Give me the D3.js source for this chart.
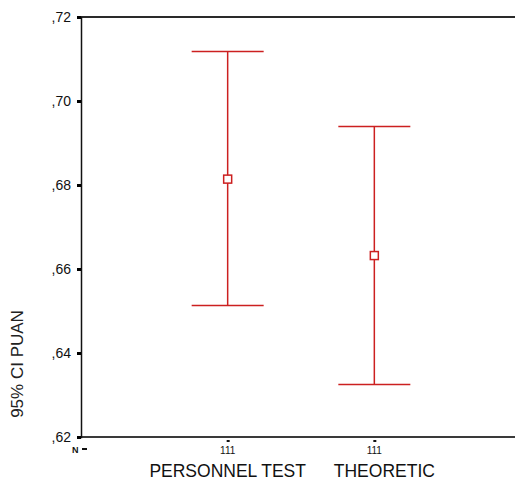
<!DOCTYPE html>
<html>
<head>
<meta charset="utf-8">
<script src="https://cdn.jsdelivr.net/npm/d3@7"></script>
<style>
  body { margin: 0; background: #fff; }
  svg { display: block; font-family: "Liberation Sans", Arial, sans-serif; }
</style>
</head>
<body>
<div id="chart"></div>
<script>
// data
var groups = ["PERSONNEL TEST", "THEORETIC"];
var nValues = ["111", "111"];
var means = [0.6814, 0.6632];
var lower = [0.6513, 0.6325];
var upper = [0.7118, 0.6939];
var yTicks = [0.62, 0.64, 0.66, 0.68, 0.70, 0.72];

var width = 515, height = 483;
var margin = {top: 17, bottom: 46, left: 81, right: 0};

var svg = d3.select("#chart")
  .append("svg")
    .attr("width", width)
    .attr("height", height);

var y = d3.scaleLinear()
  .domain([0.62, 0.72])
  .range([height - margin.bottom, margin.top]);

// categories sit at 1 and 2 on a 0..3 axis that runs a bit past the window
var x = d3.scaleLinear()
  .domain([0, 3])
  .range([margin.left, 521]);

var red = "#cc2020";

// frame (top + bottom lines, left axis)
svg.append("line")
  .attr("x1", margin.left).attr("x2", width)
  .attr("y1", y(0.72)).attr("y2", y(0.72))
  .attr("stroke", "#2a2a2a").attr("stroke-width", 2);
svg.append("line")
  .attr("x1", margin.left).attr("x2", width)
  .attr("y1", y(0.62)).attr("y2", y(0.62))
  .attr("stroke", "#3a3a3a").attr("stroke-width", 2);

// Y axis
var yAxis = svg.append("g")
  .attr("transform", "translate(" + margin.left + ",0)")
  .call(d3.axisLeft(y).tickValues(yTicks).tickSize(4).tickPadding(6)
    .tickFormat(function(d) { return "," + d3.format(".2f")(d).slice(2); }));
yAxis.select(".domain").attr("stroke", "#111").attr("stroke-width", 1.5);
yAxis.selectAll(".tick line").attr("stroke", "#000").attr("stroke-width", 3);
yAxis.selectAll(".tick text")
  .style("font-size", "14px")
  .style("font-family", "\"Liberation Sans\", Arial, sans-serif")
  .attr("fill", "#111");

// Y title
svg.append("text")
  .attr("transform", "translate(23," + 364 + ") rotate(-90)")
  .attr("text-anchor", "middle")
  .style("font-size", "17px")
  .attr("fill", "#222")
  .text("95% CI PUAN");

// error bars
var capHalf = 36;
var bars = svg.selectAll("g.bar")
  .data(groups)
  .enter()
  .append("g")
    .attr("class", "bar");

bars.append("line")
  .attr("x1", (d, i) => x(i + 1)).attr("x2", (d, i) => x(i + 1))
  .attr("y1", (d, i) => y(upper[i])).attr("y2", (d, i) => y(lower[i]))
  .attr("stroke", red).attr("stroke-width", 1.5);
bars.append("line")
  .attr("x1", (d, i) => x(i + 1) - capHalf).attr("x2", (d, i) => x(i + 1) + capHalf)
  .attr("y1", (d, i) => y(upper[i])).attr("y2", (d, i) => y(upper[i]))
  .attr("stroke", red).attr("stroke-width", 1.5);
bars.append("line")
  .attr("x1", (d, i) => x(i + 1) - capHalf).attr("x2", (d, i) => x(i + 1) + capHalf)
  .attr("y1", (d, i) => y(lower[i])).attr("y2", (d, i) => y(lower[i]))
  .attr("stroke", red).attr("stroke-width", 1.5);
bars.append("rect")
  .attr("x", (d, i) => x(i + 1) - 4).attr("y", (d, i) => y(means[i]) - 4)
  .attr("width", 8).attr("height", 8)
  .attr("fill", "#fff")
  .attr("stroke", red).attr("stroke-width", 1.5);

// N row
svg.append("text")
  .attr("x", 72).attr("y", 453)
  .style("font-size", "9px").style("font-weight", "bold")
  .attr("fill", "#111")
  .text("N");
svg.append("rect")
  .attr("x", 82).attr("y", 448).attr("width", 5).attr("height", 2)
  .attr("fill", "#111");

bars.append("rect")
  .attr("x", (d, i) => x(i + 1) - 1).attr("y", 440)
  .attr("width", 3).attr("height", 2)
  .attr("fill", "#111");
bars.append("text")
  .attr("x", (d, i) => x(i + 1)).attr("y", 454)
  .attr("text-anchor", "middle")
  .style("font-size", "10px")
  .attr("fill", "#111")
  .text((d, i) => nValues[i]);

// category labels
bars.append("text")
  .attr("x", (d, i) => x(i + 1) + i * 10).attr("y", 477)
  .attr("text-anchor", "middle")
  .style("font-size", "17.5px")
  .attr("fill", "#111")
  .text(d => d);
</script>
</body>
</html>
